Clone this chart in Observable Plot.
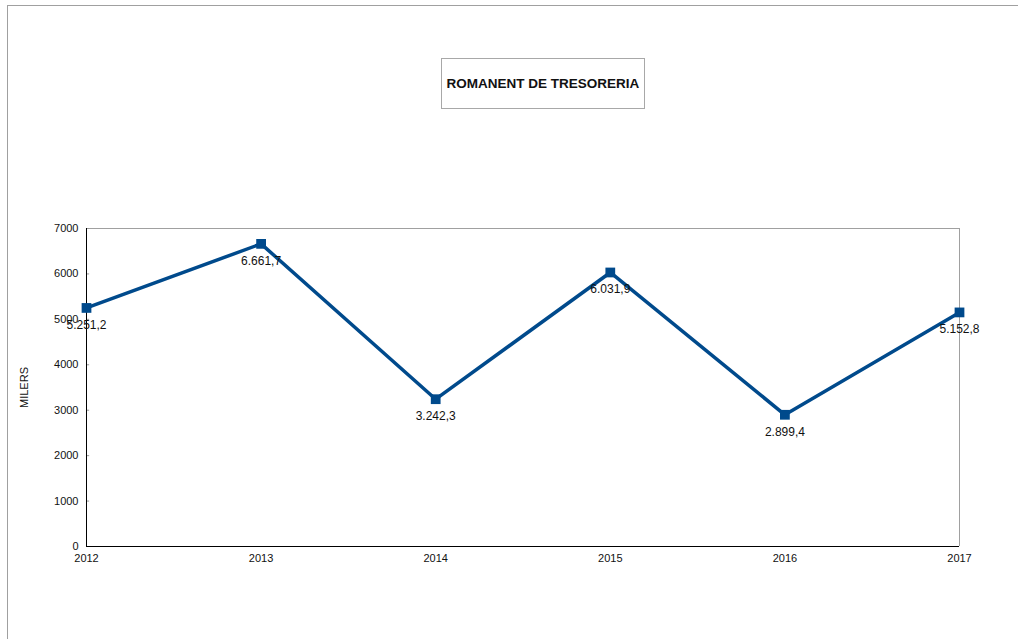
<!DOCTYPE html>
<html><head><meta charset="utf-8">
<script src="https://cdn.jsdelivr.net/npm/d3@7"></script>
<script src="https://cdn.jsdelivr.net/npm/@observablehq/plot@0.6"></script>
<style>
body{margin:0;background:#fff;font-family:"Liberation Sans",Arial,sans-serif;}
#wrap{position:relative;width:1018px;height:639px;overflow:hidden;}
#border{position:absolute;left:7px;top:5px;width:1100px;height:700px;border-left:1px solid #a0a0a0;border-top:1px solid #a0a0a0;}
#title{position:absolute;left:441px;top:58px;width:202px;height:49px;border:1px solid #a8a8a8;display:flex;align-items:center;justify-content:center;font-weight:bold;font-size:13.5px;color:#111;}
#chart{position:absolute;left:0;top:0;}
</style></head>
<body>
<div id="wrap"><div id="border"></div><div id="chart"></div><div id="title">ROMANENT DE TRESORERIA</div></div>
<script>
const years = [2012, 2013, 2014, 2015, 2016, 2017];
const values = [5251.2, 6661.7, 3242.3, 6031.9, 2899.4, 5152.8];
const labels = ["5.251,2", "6.661,7", "3.242,3", "6.031,9", "2.899,4", "5.152,8"];
const yTicks = [0, 1000, 2000, 3000, 4000, 5000, 6000, 7000];
const data = years.map((y, i) => ({year: y, value: values[i], label: labels[i]}));
const color = "#004a8c";
const chart = Plot.plot({
  width: 1018, height: 639,
  marginLeft: 86, marginRight: 59, marginTop: 228, marginBottom: 93,
  style: {fontFamily: '"Liberation Sans", Arial, sans-serif', fontSize: "11px", color: "#111", background: "transparent"},
  x: {domain: [2012, 2017], ticks: years, tickFormat: d => String(d), tickSize: 0, tickPadding: 8, label: null},
  y: {domain: [0, 7000], ticks: yTicks, tickFormat: d => String(d), tickSize: 0, tickPadding: 8, label: "MILERS", labelAnchor: "center", labelArrow: "none", labelOffset: 66},
  marks: [
    Plot.ruleY([7000], {stroke: "#a0a0a0"}),
    Plot.ruleX([2017], {stroke: "#a0a0a0"}),
    Plot.ruleY(yTicks, {x1: 2012, x2: 2012.018, stroke: "#999"}),
    Plot.ruleX([2012], {stroke: "#000"}),
    Plot.ruleY([0], {stroke: "#000"}),
    Plot.line(data, {x: "year", y: "value", stroke: color, strokeWidth: 3.5}),
    Plot.dot(data, {x: "year", y: "value", symbol: "square", fill: color, r: 5.5}),
    Plot.text(data, {x: "year", y: "value", text: "label", dy: 17, fontSize: 12, fill: "#111"})
  ]
});
document.getElementById("chart").appendChild(chart);
</script>
</body></html>
